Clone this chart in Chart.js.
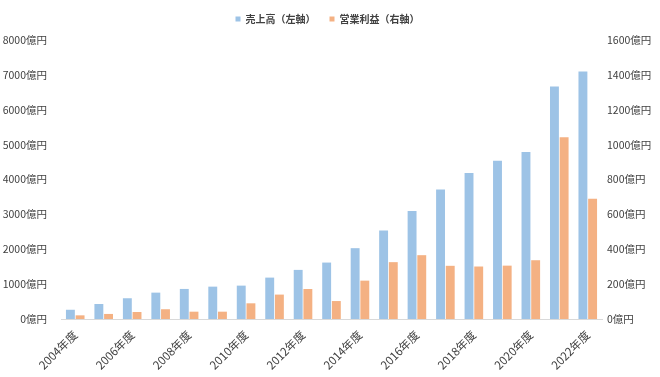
<!DOCTYPE html>
<html>
<head>
<meta charset="utf-8">
<script src="https://cdn.jsdelivr.net/npm/chart.js@4"></script>
<style>
  html, body { margin: 0; padding: 0; background: #fff; }
  #wrap { width: 660px; height: 377px; position: relative; }
</style>
</head>
<body>
<div id="wrap"><canvas id="c"></canvas></div>
<script>
const years = ["2004年度", "2005年度", "2006年度", "2007年度", "2008年度", "2009年度", "2010年度",
    "2011年度", "2012年度", "2013年度", "2014年度", "2015年度", "2016年度", "2017年度",
    "2018年度", "2019年度", "2020年度", "2021年度", "2022年度"];
const sales = [265, 430, 595, 756, 862, 928, 957, 1187, 1408, 1618, 2031, 2537, 3095, 3716, 4187, 4540, 4790, 6667, 7098];
const profit = [21, 29, 40, 56, 42, 42, 90, 140, 172, 103, 220, 326, 366, 305, 301, 306, 337, 1042, 690];
const leftTicks = [0, 1000, 2000, 3000, 4000, 5000, 6000, 7000, 8000];
const rightTicks = [0, 200, 400, 600, 800, 1000, 1200, 1400, 1600];

const FONT = "'Noto Sans CJK JP', 'Noto Sans', sans-serif";
const TEXT = "#404040";

// a bit more room under the legend
const legendGap = {
    id: "legendGap",
    beforeInit(chart) {
        const fit = chart.legend.fit;
        chart.legend.fit = function () {
            fit.bind(chart.legend)();
            this.height += 6;
        };
    }
};

new Chart(document.getElementById("c").getContext("2d"), {
    type: "bar",
    data: {
        labels: years,
        datasets: [
            {
                label: "売上高（左軸）",
                data: sales,
                backgroundColor: "#9DC3E6",
                borderWidth: 0,
                yAxisID: "left"
            },
            {
                label: "営業利益（右軸）",
                data: profit,
                backgroundColor: "#F4B183",
                borderWidth: 0,
                yAxisID: "right"
            }
        ]
    },
    plugins: [legendGap],
    options: {
        responsive: true,
        maintainAspectRatio: false,
        animation: false,
        datasets: { bar: { categoryPercentage: 0.68, barPercentage: 0.92 } },
        layout: { padding: { top: 0, left: 3, right: 8, bottom: 0 } },
        scales: {
            x: {
                afterFit: axis => { axis.height = 58; },
                grid: { display: false, drawTicks: false },
                border: { display: true, color: "#D9D9D9", width: 1 },
                ticks: {
                    autoSkip: false,
                    maxRotation: 45,
                    minRotation: 45,
                    padding: 9,
                    color: TEXT,
                    font: { family: FONT, size: 11.5 },
                    callback: (v, i) => (i % 2 === 0 ? years[i] : "")
                }
            },
            left: {
                type: "linear",
                position: "left",
                min: 0,
                max: 8000,
                afterBuildTicks: axis => { axis.ticks = leftTicks.map(v => ({ value: v })); },
                afterFit: axis => { axis.width = 58; },
                grid: { display: false, drawTicks: false },
                border: { display: false },
                ticks: {
                    padding: 14,
                    color: TEXT,
                    font: { family: FONT, size: 10.5 },
                    callback: v => v + "億円"
                }
            },
            right: {
                type: "linear",
                position: "right",
                min: 0,
                max: 1600,
                afterBuildTicks: axis => { axis.ticks = rightTicks.map(v => ({ value: v })); },
                afterFit: axis => { axis.width = 50; },
                grid: { display: false, drawTicks: false },
                border: { display: false },
                ticks: {
                    padding: 5,
                    color: TEXT,
                    font: { family: FONT, size: 10.5 },
                    callback: v => v + "億円"
                }
            }
        },
        plugins: {
            legend: {
                display: true,
                position: "top",
                labels: {
                    boxWidth: 5,
                    boxHeight: 5,
                    padding: 14,
                    color: TEXT,
                    font: { family: FONT, size: 10, weight: "bold" }
                }
            },
            tooltip: { enabled: false }
        }
    }
});
</script>
</body>
</html>
